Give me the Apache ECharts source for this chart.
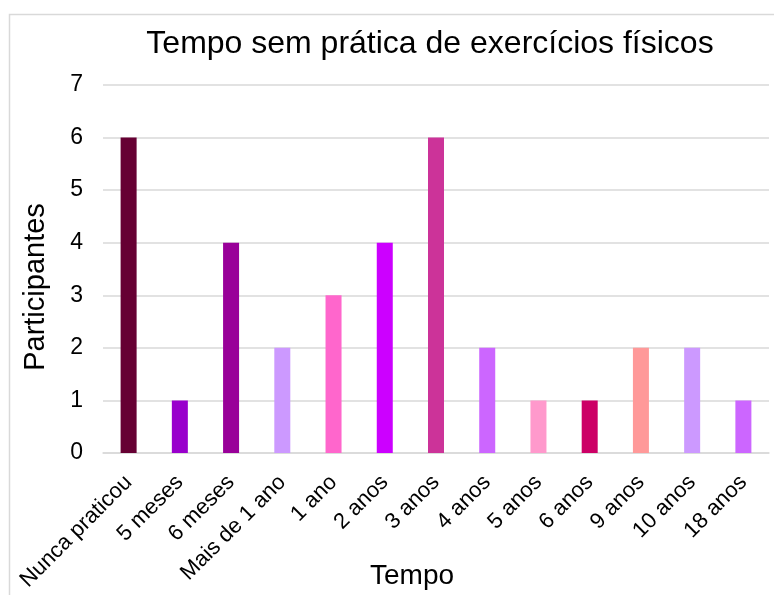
<!DOCTYPE html>
<html>
<head>
<meta charset="utf-8">
<script src="https://cdn.jsdelivr.net/npm/echarts@6/dist/echarts.min.js"></script>
<style>
  html, body { margin: 0; padding: 0; background: #fff; }
  #chart { width: 774px; height: 595px; }
</style>
</head>
<body>
<div id="chart"></div>
<script>
// Time without physical exercise, participants per category
const categories = ['Nunca praticou', '5 meses', '6 meses', 'Mais de 1 ano', '1 ano', '2 anos', '3 anos', '4 anos', '5 anos', '6 anos', '9 anos', '10 anos', '18 anos'];
const participants = [6, 1, 4, 2, 3, 4, 6, 2, 1, 1, 2, 2, 1];
const barColors = ['#660033', '#9900CC', '#990099', '#CC99FF', '#FF66CC', '#CC00FF', '#CC3399', '#CC66FF', '#FF99CC', '#CC0066', '#FF9999', '#CC99FF', '#CC66FF'];
const yTicks = [0, 1, 2, 3, 4, 5, 6, 7];

const font = 'Liberation Sans, Arial, sans-serif';
const chart = echarts.init(document.getElementById('chart'));

chart.setOption({
  backgroundColor: '#ffffff',
  animation: false,
  graphic: [{
    type: 'rect',
    shape: { x: 9.5, y: 14.5, width: 800, height: 600 },
    style: { fill: 'none', stroke: '#d9d9d9', lineWidth: 1.5 },
    silent: true
  }],
  title: {
    text: 'Tempo sem prática de exercícios físicos',
    left: 425,
    top: 23,
    textAlign: 'center',
    textStyle: { fontFamily: font, fontSize: 32, fontWeight: 'normal', color: '#000' }
  },
  grid: { left: 103, right: 5, top: 85, height: 368, outerBoundsMode: 'none', containLabel: false },
  xAxis: {
    type: 'category',
    data: categories,
    name: 'Tempo',
    nameLocation: 'middle',
    nameGap: 109,
    nameMoveOverlap: false,
    nameTextStyle: { fontFamily: font, fontSize: 28, color: '#000', padding: [0, 48, 0, 0] },
    axisLine: { show: true, lineStyle: { color: '#d9d9d9', width: 1.5 } },
    axisTick: { show: false },
    axisLabel: {
      rotate: 45,
      interval: 0,
      margin: 26,
      fontFamily: font,
      fontSize: 22,
      color: '#000'
    }
  },
  yAxis: {
    type: 'value',
    min: yTicks[0],
    max: yTicks[yTicks.length - 1],
    interval: 1,
    name: 'Participantes',
    nameLocation: 'middle',
    nameGap: 53,
    nameRotate: 90,
    nameMoveOverlap: false,
    nameTextStyle: { fontFamily: font, fontSize: 29, color: '#000', padding: [0, 36, 0, 0] },
    axisLine: { show: false },
    axisTick: { show: false },
    splitLine: { lineStyle: { color: '#d9d9d9', width: 1.5 } },
    axisLabel: {
      margin: 20,
      fontFamily: font,
      fontSize: 23,
      color: '#000'
    }
  },
  series: [{
    type: 'bar',
    data: participants.map((v, i) => ({ value: v, itemStyle: { color: barColors[i] } })),
    barWidth: 16
  }]
});
</script>
</body>
</html>
